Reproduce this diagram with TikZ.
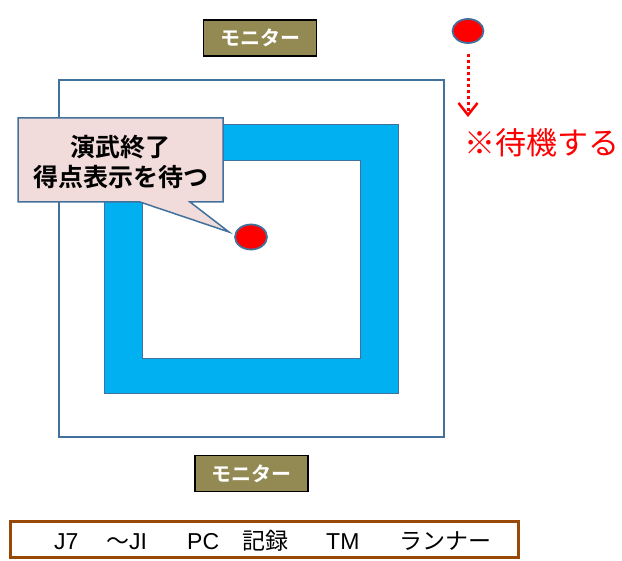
\documentclass[tikz,border=0pt]{standalone}
\usepackage{fontspec}
\setmainfont{Liberation Sans}
\newfontfamily\jp[BoldFont={Noto Sans CJK JP Bold}]{Noto Sans CJK JP}
\usetikzlibrary{arrows.meta,shapes.geometric}
\definecolor{olivebox}{HTML}{938953}
\definecolor{framebl}{HTML}{00B0F0}
\definecolor{edgebl}{HTML}{41719C}
\definecolor{pinkbg}{HTML}{F2DCDB}
\definecolor{brownedge}{HTML}{984807}
\tikzset{
  monitor/.style={draw=black, line width=1.8pt, fill=olivebox, minimum width=113pt, minimum height=36pt,
    inner sep=0pt, text=white, font=\jp\bfseries\fontsize{20}{22}\selectfont},
  reddot/.style={ellipse, draw=edgebl, line width=1.8pt, fill=red, inner sep=0pt},
}
\begin{document}
\begin{tikzpicture}[x=1pt,y=-1pt]
\useasboundingbox (0,0) rectangle (622,561);
% outer field
\draw[edgebl, line width=1.5pt] (59,80) rectangle (444,437);
% blue frame
\fill[framebl, even odd rule] (104,125) rectangle (398,394) (142,161) rectangle (360,359);
\draw[edgebl, line width=1pt] (104,125) rectangle (398,394) (142,161) rectangle (360,359);
% callout
\draw[edgebl, line width=1.5pt, fill=pinkbg] (18,118) -- (223,118) -- (223,202) -- (190,202) -- (229,232) -- (140,202) -- (18,202) -- cycle;
\node[font=\jp\bfseries\fontsize{25}{30}\selectfont, align=center] (callout) at (121,162) {演武終了\\得点表示を待つ};
% red dots
\node[reddot, minimum width=32pt, minimum height=25pt] (innerdot) at (251,237) {};
\node[reddot, minimum width=31pt, minimum height=24pt] (topdot) at (468,31) {};
\coordinate (arrowtip) at (468,117);
\draw[red, line width=3pt, dash pattern=on 3pt off 3pt, shorten <=10pt,
  -{Straight Barb[length=12pt,width=19pt,line width=2.5pt]}] (topdot.south) -- (arrowtip);
\node[text=red, font=\jp\fontsize{31}{34}\selectfont, anchor=west, inner sep=0pt] (standby) at (464,143) {※待機する};
% monitors
\node[monitor] (montop) at (260,38) {モニター};
\node[monitor] (monbot) at (251.5,473.5) {モニター};
% bottom list
\node[draw=brownedge, line width=3pt, minimum width=508pt, minimum height=36pt, inner sep=0pt] (list) at (264,540) {};
\node[anchor=west, font=\fontsize{23}{26}\selectfont, inner sep=0pt] (listtext) at (54,541)
  {\rlap{J7}\rlap{\hspace*{52pt}{\jp ～}JI}\rlap{\hspace*{133pt}PC}\rlap{\hspace*{188pt}{\jp 記録}}\rlap{\hspace*{272pt}TM}\hspace*{345pt}{\jp ランナー}};
\end{tikzpicture}
\end{document}
